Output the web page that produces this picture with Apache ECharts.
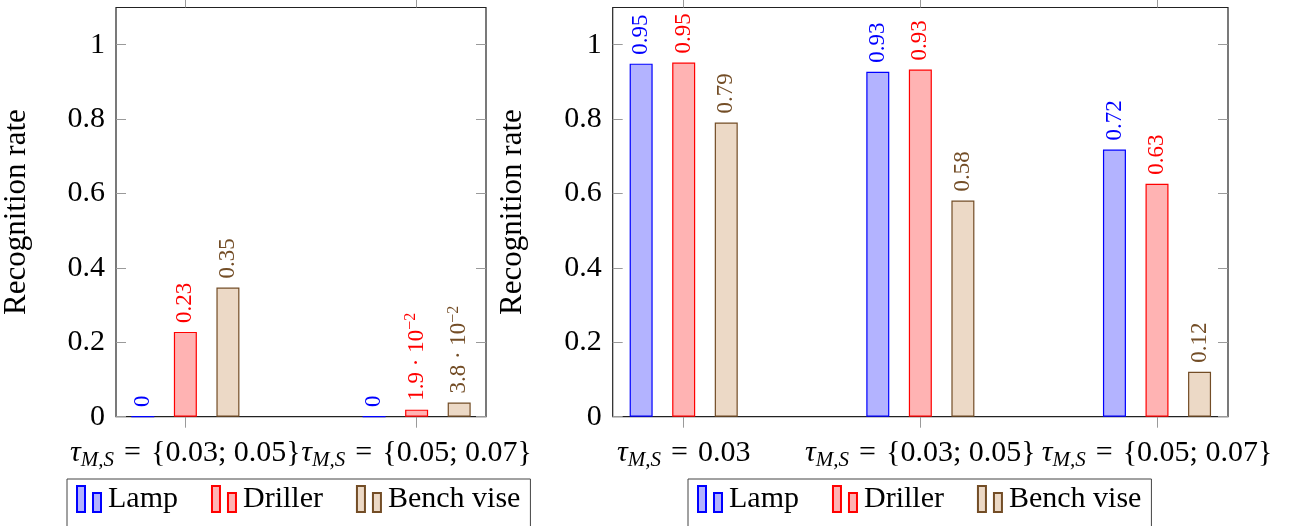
<!DOCTYPE html>
<html>
<head>
<meta charset="UTF-8">
<title>Recognition rate</title>
<script src="https://cdn.jsdelivr.net/npm/echarts@6/dist/echarts.min.js"></script>
<style>
  html, body { margin: 0; padding: 0; background: #fff; }
  #chart { width: 1299px; height: 526px; }
</style>
</head>
<body>
<div id="chart"></div>
<script>
var seriesNames = ['Lamp', 'Driller', 'Bench vise'];

// left panel
var leftGroups = ['{0.03; 0.05}', '{0.05; 0.07}'];
var leftLamp = [0, 0];
var leftDriller = [0.228, 0.019];
var leftBench = [0.347, 0.038];

// right panel
var rightGroups = ['0.03', '{0.03; 0.05}', '{0.05; 0.07}'];
var rightLamp = [0.949, 0.927, 0.718];
var rightDriller = [0.952, 0.933, 0.626];
var rightBench = [0.791, 0.581, 0.121];

var yTicks = [0, 0.2, 0.4, 0.6, 0.8, 1];

var serif = 'Liberation Serif';
var lineColors = ['#0000ff', '#ff0000', '#734d26'];
var fillColors = ['#b3b3ff', '#ffb3b3', '#ecd9c6'];
var tickColor = '#9a9a9a';

function groupLabel(g) {
  return '{t|τ}{s|M,S}\u2004=\u2004' + g;
}

function valueLabel(v) {
  if (v === 0) return '{n|0}';
  if (v < 0.1) {
    var e = Math.floor(Math.log10(v));
    var m = v / Math.pow(10, e);
    return '{n|' + m.toFixed(1) + ' · 10}{sup|−' + (-e) + '}';
  }
  return '{n|' + v.toFixed(2) + '}';
}

function xAxes(grid, groups, max) {
  var ticks = groups.map(function (g, i) { return i; });
  return [{
    type: 'value', gridIndex: grid, position: 'bottom', min: -0.3, max: max,
    splitLine: { show: false }, axisLine: { show: false, onZero: false },
    axisTick: { show: true, inside: false, length: 11, customValues: ticks, lineStyle: { color: tickColor } },
    axisLabel: {
      customValues: ticks, margin: 18, color: '#000', fontFamily: serif, fontSize: 30, lineHeight: 36,
      formatter: function (v) { return groupLabel(groups[Math.round(v)]); },
      rich: {
        t: { fontFamily: serif, fontStyle: 'italic', fontSize: 30, lineHeight: 36, color: '#000' },
        s: { fontFamily: serif, fontStyle: 'italic', fontSize: 21, lineHeight: 20, padding: [16, 0, 0, 0], color: '#000' }
      }
    }
  }, {
    type: 'value', gridIndex: grid, position: 'top', min: -0.3, max: max,
    splitLine: { show: false }, axisLine: { show: false, onZero: false },
    axisTick: { show: true, inside: false, length: 11, customValues: ticks, lineStyle: { color: tickColor } },
    axisLabel: { show: false }
  }];
}

function yAxes(grid) {
  return [{
    type: 'value', gridIndex: grid, position: 'left', min: 0, max: 1.1,
    name: 'Recognition rate', nameLocation: 'middle', nameGap: 84, nameRotate: 90,
    nameTextStyle: { fontFamily: serif, fontSize: 31, color: '#000' },
    splitLine: { show: false }, axisLine: { show: false, onZero: false },
    axisTick: { inside: true, length: 10, customValues: yTicks, lineStyle: { color: tickColor } },
    axisLabel: {
      customValues: yTicks, margin: 11, color: '#000', fontFamily: serif, fontSize: 30,
      formatter: function (v) { return String(v); }
    }
  }, {
    type: 'value', gridIndex: grid, position: 'right', min: 0, max: 1.1,
    splitLine: { show: false }, axisLine: { show: false, onZero: false },
    axisTick: { inside: true, length: 10, customValues: yTicks, lineStyle: { color: tickColor } },
    axisLabel: { show: false }
  }];
}

function barSeries(k, values, grid) {
  return {
    name: seriesNames[k], type: 'bar',
    xAxisIndex: grid * 2, yAxisIndex: grid * 2,
    barWidth: 23, barGap: '85%',
    data: values.map(function (v, i) { return [i, v]; }),
    itemStyle: { color: fillColors[k], borderColor: lineColors[k], borderWidth: 1.2 },
    label: {
      show: true, position: 'top', distance: 9, rotate: 90, align: 'left', verticalAlign: 'middle',
      formatter: function (p) { return valueLabel(p.value[1]); },
      rich: {
        n: { fontFamily: serif, fontSize: 23, lineHeight: 26, color: lineColors[k] },
        sup: { fontFamily: serif, fontSize: 16, lineHeight: 15, padding: [0, 0, 11, 0], color: lineColors[k] }
      }
    }
  };
}

function legendAt(left) {
  return {
    data: seriesNames, left: left, top: 479, orient: 'horizontal', selectedMode: false,
    itemWidth: 24, itemHeight: 26, itemGap: 33,
    icon: 'path://M0,0h8v26h-8z M16,7h8v19h-8z',
    borderColor: '#444', borderWidth: 1, padding: [5, 10, 40, 9],
    textStyle: { fontFamily: serif, fontSize: 30, color: '#000', padding: [0, 0, 0, 2] }
  };
}

var gridStyle = { show: true, borderColor: '#222', borderWidth: 1.2, top: 7.5, height: 409.2 };

var chart = echarts.init(document.getElementById('chart'), null, { renderer: 'canvas' });
chart.setOption({
  animation: false,
  textStyle: { fontFamily: serif },
  legend: [legendAt(67), legendAt(688)],
  grid: [
    Object.assign({ left: 116, width: 370 }, gridStyle),
    Object.assign({ left: 612.7, width: 615.3 }, gridStyle)
  ],
  xAxis: xAxes(0, leftGroups, 1.3).concat(xAxes(1, rightGroups, 2.3)),
  yAxis: yAxes(0).concat(yAxes(1)),
  series: [
    barSeries(0, leftLamp, 0),
    barSeries(1, leftDriller, 0),
    barSeries(2, leftBench, 0),
    barSeries(0, rightLamp, 1),
    barSeries(1, rightDriller, 1),
    barSeries(2, rightBench, 1)
  ]
});
</script>
</body>
</html>
